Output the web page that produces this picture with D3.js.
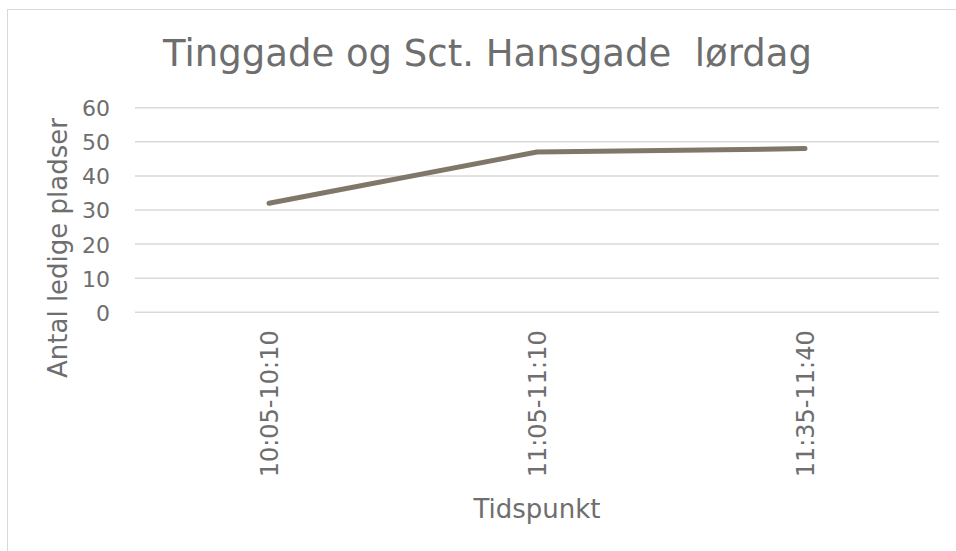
<!DOCTYPE html>
<html>
<head>
<meta charset="utf-8">
<script src="https://cdn.jsdelivr.net/npm/d3@7"></script>
<style>
  html, body { margin: 0; padding: 0; background: #fff; }
  svg { display: block; font-family: "DejaVu Sans", Verdana, sans-serif; }
</style>
</head>
<body>
<div id="chart"></div>
<script>
const title = 'Tinggade og Sct. Hansgade  lørdag';
const categories = ['10:05-10:10', '11:05-11:10', '11:35-11:40'];
const ledige = [32, 47, 48];
const yTicks = [0, 10, 20, 30, 40, 50, 60];
const xTitle = 'Tidspunkt';
const yTitle = 'Antal ledige pladser';

const W = 956, H = 551;
const plot = { left: 135, right: 939, top: 107.7, bottom: 312.3 };
const textColor = '#6e6e6e';

const svg = d3.select('#chart').append('svg')
  .attr('width', W)
  .attr('height', H);

// chart border (runs off the right/bottom edge)
svg.append('rect')
  .attr('x', 7.5).attr('y', 9.5)
  .attr('width', 1000).attr('height', 1000)
  .attr('fill', 'none')
  .attr('stroke', '#d9d9d9');

const x = d3.scaleBand()
  .domain(categories)
  .range([plot.left, plot.right]);

const y = d3.scaleLinear()
  .domain([0, 60])
  .range([plot.bottom, plot.top]);

// gridlines
svg.append('g')
  .selectAll('line')
  .data(yTicks)
  .enter()
  .append('line')
  .attr('x1', plot.left)
  .attr('x2', plot.right)
  .attr('y1', d => y(d))
  .attr('y2', d => y(d))
  .attr('stroke', '#d9d9d9')
  .attr('stroke-width', 1.5);

// y tick labels
const yAxis = svg.append('g')
  .attr('transform', `translate(${plot.left - 25},0)`)
  .call(d3.axisLeft(y).tickValues(yTicks).tickSize(0).tickPadding(0));
yAxis.select('.domain').remove();
yAxis.selectAll('text')
  .attr('x', 0)
  .attr('dy', '0.36em')
  .style('font-family', '"DejaVu Sans", Verdana, sans-serif')
  .style('font-size', '22px')
  .attr('fill', textColor);

// x tick labels, rotated
const xAxis = svg.append('g')
  .attr('transform', `translate(0,${plot.bottom})`)
  .call(d3.axisBottom(x).tickSize(0).tickPadding(0));
xAxis.select('.domain').remove();
xAxis.selectAll('text')
  .attr('transform', 'rotate(-90)')
  .attr('x', -18)
  .attr('y', 0)
  .attr('dy', '0.36em')
  .attr('text-anchor', 'end')
  .style('font-family', '"DejaVu Sans", Verdana, sans-serif')
  .style('font-size', '24px')
  .attr('fill', textColor);

// series line
const line = d3.line()
  .x((d, i) => x(categories[i]) + x.bandwidth() / 2)
  .y(d => y(d));

svg.append('path')
  .datum(ledige)
  .attr('fill', 'none')
  .attr('stroke', '#7f7769')
  .attr('stroke-width', 5)
  .attr('stroke-linecap', 'round')
  .attr('stroke-linejoin', 'round')
  .attr('d', line);

// title
svg.append('text')
  .attr('x', 487.5)
  .attr('y', 66)
  .attr('text-anchor', 'middle')
  .style('white-space', 'pre')
  .style('font-size', '37px')
  .attr('fill', textColor)
  .text(title);

// axis titles
svg.append('text')
  .attr('x', 537)
  .attr('y', 518)
  .attr('text-anchor', 'middle')
  .style('font-size', '26px')
  .attr('fill', textColor)
  .text(xTitle);

svg.append('text')
  .attr('transform', 'translate(67,248) rotate(-90)')
  .attr('text-anchor', 'middle')
  .style('font-size', '26px')
  .attr('fill', textColor)
  .text(yTitle);
</script>
</body>
</html>
